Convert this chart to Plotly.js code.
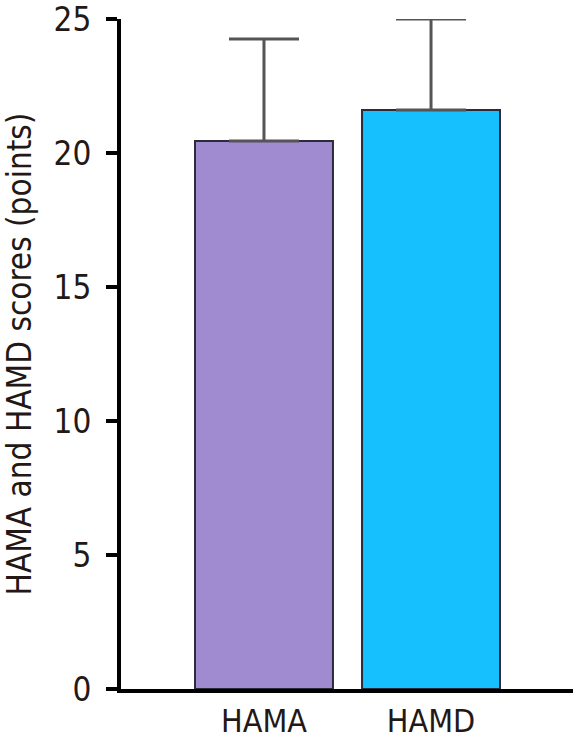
<!DOCTYPE html>
<html>
<head>
<meta charset="utf-8">
<script src="https://cdn.plot.ly/plotly-3.0.1.min.js"></script>
<style>html,body{margin:0;padding:0;background:#fff;}#chart{width:575px;height:742px;}</style>
</head>
<body>
<div id="chart"></div>
<script>
const categories = ["HAMA", "HAMD"];
const means = [20.45, 21.6];
const errorsUp = [3.8, 3.4];
const barColors = ["#a08ad0", "#16bffd"];
const yTickValues = [0, 5, 10, 15, 20, 25];
const yTickLabels = ["0", "5", "10", "15", "20", "25"];
const yTitle = "HAMA and HAMD scores (points)";

const textColor = "#231815";
const fontFamily = "DejaVu Sans Condensed, DejaVu Sans, sans-serif";

const trace = {
  type: "bar",
  x: [0, 1],
  y: means,
  width: [0.826, 0.826],
  marker: { color: barColors, line: { color: "#2b2b3a", width: 2 } },
  error_y: {
    type: "data",
    symmetric: false,
    array: errorsUp,
    arrayminus: [0, 0],
    color: "#555555",
    thickness: 3,
    width: 35
  },
  hoverinfo: "none"
};

const layout = {
  width: 575,
  height: 742,
  margin: { l: 121, r: 2, t: 19, b: 53, pad: 0 },
  paper_bgcolor: "#ffffff",
  plot_bgcolor: "#ffffff",
  showlegend: false,
  font: { family: fontFamily, size: 33, color: textColor },
  xaxis: {
    range: [-0.856, 1.85],
    tickmode: "array",
    tickvals: [0, 1],
    ticktext: categories,
    showgrid: false,
    zeroline: false,
    showline: true,
    linecolor: "#000000",
    linewidth: 4,
    ticks: "",
    ticklabelstandoff: 1,
    ticklabeloverflow: "allow",
    tickfont: { family: fontFamily, size: 32, color: textColor },
    fixedrange: true
  },
  yaxis: {
    range: [0, 25],
    tickmode: "array",
    tickvals: yTickValues,
    ticktext: yTickLabels,
    showgrid: false,
    zeroline: false,
    showline: true,
    linecolor: "#000000",
    linewidth: 4,
    ticks: "outside",
    ticklen: 11,
    tickwidth: 4,
    tickcolor: "#000000",
    ticklabelstandoff: 8,
    ticklabeloverflow: "allow",
    tickfont: { family: fontFamily, size: 33, color: textColor },
    title: { text: yTitle, font: { family: fontFamily, size: 33, color: textColor }, standoff: 28 },
    fixedrange: true
  }
};

Plotly.newPlot("chart", [trace], layout, { displayModeBar: false, staticPlot: true });
</script>
</body>
</html>
